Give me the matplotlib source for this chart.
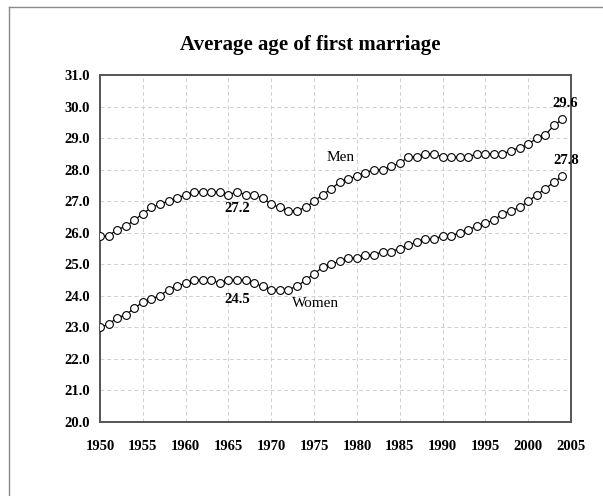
import matplotlib
matplotlib.use('Agg')
import matplotlib.pyplot as plt
from matplotlib.lines import Line2D

plt.rcParams['font.family'] = ['Liberation Serif', 'DejaVu Serif']

years = list(range(1950, 2005))

men = [25.9, 25.9, 26.1, 26.2, 26.4, 26.6, 26.8, 26.9, 27.0, 27.1,
       27.2, 27.3, 27.3, 27.3, 27.3, 27.2, 27.3, 27.2, 27.2, 27.1,
       26.9, 26.8, 26.7, 26.7, 26.8, 27.0, 27.2, 27.4, 27.6, 27.7,
       27.8, 27.9, 28.0, 28.0, 28.1, 28.2, 28.4, 28.4, 28.5, 28.5,
       28.4, 28.4, 28.4, 28.4, 28.5, 28.5, 28.5, 28.5, 28.6, 28.7,
       28.8, 29.0, 29.1, 29.4, 29.6]

women = [23.0, 23.1, 23.3, 23.4, 23.6, 23.8, 23.9, 24.0, 24.2, 24.3,
         24.4, 24.5, 24.5, 24.5, 24.4, 24.5, 24.5, 24.5, 24.4, 24.3,
         24.2, 24.2, 24.2, 24.3, 24.5, 24.7, 24.9, 25.0, 25.1, 25.2,
         25.2, 25.3, 25.3, 25.4, 25.4, 25.5, 25.6, 25.7, 25.8, 25.8,
         25.9, 25.9, 26.0, 26.1, 26.2, 26.3, 26.4, 26.6, 26.7, 26.8,
         27.0, 27.2, 27.4, 27.6, 27.8]

x_ticks = list(range(1950, 2006, 5))
y_ticks = [20, 21, 22, 23, 24, 25, 26, 27, 28, 29, 30, 31]

fig = plt.figure(figsize=(6.03, 4.96), dpi=100)
ax = fig.add_axes([100 / 603, 1 - 422 / 496, 471 / 603, 347 / 496])

for series in (men, women):
    ax.plot(years, series, color='black', linewidth=0.9, marker='o',
            markersize=5.6, markerfacecolor='white', markeredgecolor='black',
            markeredgewidth=0.8, zorder=3)

ax.set_xlim(1950, 2005)
ax.set_ylim(20, 31)
ax.set_xticks(x_ticks)
ax.set_yticks(y_ticks)
ax.set_yticklabels([f'{v:.1f}' for v in y_ticks])
ax.tick_params(axis='both', length=0, labelsize=10.5)
ax.tick_params(axis='x', pad=13)
ax.tick_params(axis='y', pad=7)
for lab in ax.get_xticklabels() + ax.get_yticklabels():
    lab.set_fontweight('bold')

ax.grid(True, color='#cfcfcf', linestyle=(0, (4, 3)), linewidth=0.7)
ax.set_axisbelow(True)
for sp in ax.spines.values():
    sp.set_color('#555555')
    sp.set_linewidth(1.4)

# labels
i65 = years.index(1965)
ax.annotate(f'{men[i65]:.1f}', (years[i65], men[i65]), xytext=(6, -10),
            textcoords='offset points', ha='center', va='center',
            fontsize=10.5, fontweight='bold')
ax.annotate(f'{women[i65]:.1f}', (years[i65], women[i65]), xytext=(6, -14),
            textcoords='offset points', ha='center', va='center',
            fontsize=10.5, fontweight='bold')
ax.annotate(f'{men[-1]:.1f}', (years[-1], men[-1]), xytext=(2, 11.5),
            textcoords='offset points', ha='center', va='center',
            fontsize=10.5, fontweight='bold')
ax.annotate(f'{women[-1]:.1f}', (years[-1], women[-1]), xytext=(2.5, 11),
            textcoords='offset points', ha='center', va='center',
            fontsize=10.5, fontweight='bold')
ax.text(1978.1, 28.37, 'Men', ha='center', va='center', fontsize=11)
ax.text(1975.2, 23.77, 'Women', ha='center', va='center', fontsize=11)

fig.text(310 / 603, 1 - 45 / 496, 'Average age of first marriage',
         ha='center', va='center', fontsize=15, fontweight='bold')

# outer frame (top and left edges visible)
fig.add_artist(Line2D([9 / 603, 1], [1 - 7 / 496, 1 - 7 / 496],
                      color='#8a8a8a', linewidth=1.0))
fig.add_artist(Line2D([9 / 603, 9 / 603], [0, 1 - 7 / 496],
                      color='#8a8a8a', linewidth=1.0))

fig.savefig('out.png', dpi=100)
